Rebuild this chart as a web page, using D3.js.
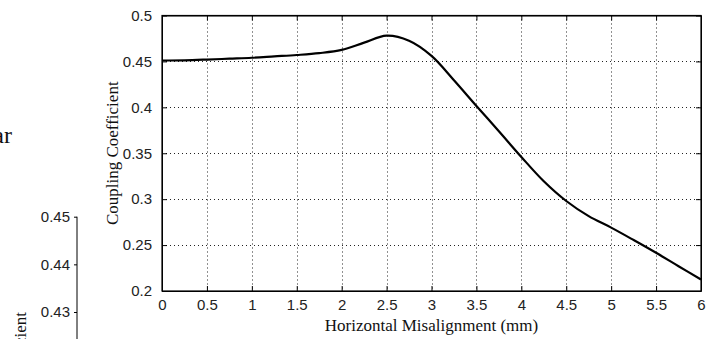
<!DOCTYPE html>
<html>
<head>
<meta charset="utf-8">
<script src="https://cdn.jsdelivr.net/npm/d3@7"></script>
<style>
  body { margin: 0; background: #fff; }
  svg { display: block; }
  .tick text { font-family: "Liberation Sans", Arial, sans-serif; font-size: 15px; fill: #222; }
  .lbl { font-family: "Liberation Serif", "Times New Roman", serif; font-size: 17px; fill: #111; }
</style>
</head>
<body>
<svg id="chart" width="716" height="339"></svg>
<script>
// misalignment (mm) and coupling coefficient
const misalign = [0, 0.25, 0.5, 0.75, 1, 1.25, 1.5, 1.75, 2, 2.25, 2.5, 2.75, 3,
    3.25, 3.5, 3.75, 4, 4.25, 4.5, 4.75, 5, 5.25, 5.5, 5.75, 6];
const coupling = [0.451, 0.4512, 0.452, 0.453, 0.454, 0.4555, 0.457, 0.459, 0.4625, 0.4705, 0.478, 0.4725, 0.456,
    0.4295, 0.4015, 0.374, 0.346, 0.3195, 0.298, 0.2815, 0.269, 0.2555, 0.2416, 0.227, 0.2125];

const xTicks = [0, 0.5, 1, 1.5, 2, 2.5, 3, 3.5, 4, 4.5, 5, 5.5, 6];
const yTicks = [0.2, 0.25, 0.3, 0.35, 0.4, 0.45, 0.5];
// ticks of the clipped neighbouring panel on the left
const sideTicks = [0.43, 0.44, 0.45];

const svg = d3.select('#chart');

// plot box
const pLeft = 162, pRight = 701, pTop = 15.5, pBottom = 291;

const x = d3.scaleLinear().domain([0, 6]).range([pLeft, pRight]);
const y = d3.scaleLinear().domain([0.2, 0.5]).range([pBottom, pTop]);

// dotted grid
const grid = svg.append('g').attr('stroke', '#222').attr('stroke-width', 1).attr('stroke-dasharray', '1,3');
grid.selectAll('line.gx')
    .data(xTicks.slice(1, -1))
    .enter().append('line')
    .attr('x1', d => Math.round(x(d)) + 0.5).attr('x2', d => Math.round(x(d)) + 0.5)
    .attr('y1', pTop).attr('y2', pBottom);
grid.selectAll('line.gy')
    .data(yTicks.slice(1, -1))
    .enter().append('line')
    .attr('y1', d => Math.round(y(d)) + 0.5).attr('y2', d => Math.round(y(d)) + 0.5)
    .attr('x1', pLeft).attr('x2', pRight);

// axes (ticks point inwards like matlab)
const fmt = d => String(d);
svg.append('g')
    .attr('transform', `translate(0,${pBottom})`)
    .call(d3.axisBottom(x).tickValues(xTicks).tickFormat(fmt).tickSizeInner(-5).tickSizeOuter(0).tickPadding(8));
svg.append('g')
    .attr('transform', `translate(0,${pTop})`)
    .call(d3.axisTop(x).tickValues(xTicks).tickFormat('').tickSizeInner(-5).tickSizeOuter(0));
svg.append('g')
    .attr('transform', `translate(${pLeft},0)`)
    .call(d3.axisLeft(y).tickValues(yTicks).tickFormat(fmt).tickSizeInner(-5).tickSizeOuter(0).tickPadding(10));
svg.append('g')
    .attr('transform', `translate(${pRight},0)`)
    .call(d3.axisRight(y).tickValues(yTicks).tickFormat('').tickSizeInner(-5).tickSizeOuter(0));

svg.selectAll('.domain').attr('stroke', '#000');
svg.selectAll('.tick line').attr('stroke', '#000');

// box
svg.append('rect')
    .attr('x', pLeft).attr('y', pTop)
    .attr('width', pRight - pLeft).attr('height', pBottom - pTop)
    .attr('fill', 'none').attr('stroke', '#000').attr('stroke-width', 1.2);

// curve
const pts = misalign.map((m, i) => [m, coupling[i]]);
const line = d3.line()
    .x(d => x(d[0]))
    .y(d => y(d[1]))
    .curve(d3.curveCatmullRom.alpha(0.5));

svg.append('path')
    .datum(pts)
    .attr('d', line)
    .attr('fill', 'none')
    .attr('stroke', '#000')
    .attr('stroke-width', 2.2);

// axis titles
svg.append('text').attr('class', 'lbl')
    .attr('x', (pLeft + pRight) / 2).attr('y', 331)
    .attr('text-anchor', 'middle')
    .text('Horizontal Misalignment (mm)');

svg.append('text').attr('class', 'lbl')
    .attr('transform', `translate(118,${(pTop + pBottom) / 2}) rotate(-90)`)
    .attr('text-anchor', 'middle')
    .text('Coupling Coefficient');

// neighbouring figure pieces, clipped by the image edge
svg.append('text').attr('class', 'lbl')
    .attr('x', 12).attr('y', 143)
    .attr('text-anchor', 'end')
    .style('font-size', '24px')
    .text('ar');

const ySide = d3.scaleLinear().domain([0.43, 0.45]).range([312, 216.7]);
const side = svg.append('g')
    .attr('transform', 'translate(77,0)')
    .call(d3.axisLeft(ySide).tickValues(sideTicks).tickFormat(d3.format('.2f')).tickSizeInner(3).tickSizeOuter(0).tickPadding(4));
side.select('.domain').attr('d', `M0,${ySide(0.45)}V339`).attr('stroke', '#000');
side.selectAll('.tick line').attr('stroke', '#000');

svg.append('text').attr('class', 'lbl')
    .attr('transform', 'translate(26,312) rotate(-90)')
    .attr('text-anchor', 'end')
    .text('Coupling Coefficient');
</script>
</body>
</html>
